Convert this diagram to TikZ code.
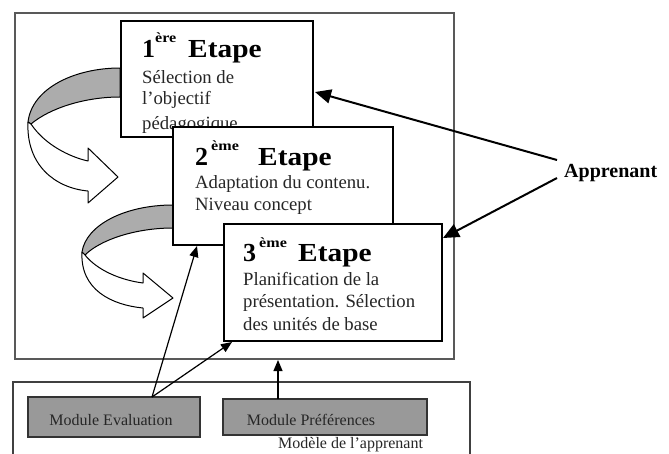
\documentclass[tikz,border=0pt]{standalone}
\usepackage{fontspec}
\setmainfont{Liberation Serif}
\usetikzlibrary{arrows.meta}
\tikzset{
  frm/.style={draw=black!65, line width=1.5pt},
  stepbox/.style={draw=black, line width=1.4pt, fill=white, inner sep=0pt},
  modbox/.style={draw=black!80, line width=1.1pt, fill=gray!80, inner sep=0pt},
  ttl/.style={anchor=base west, inner sep=0pt, font=\fontsize{26}{26}\selectfont\bfseries},
  supx/.style={anchor=base west, inner sep=0pt, font=\fontsize{14}{14}\selectfont\bfseries},
  bodytxt/.style={anchor=base west, inner sep=0pt, font=\fontsize{18.7}{22}\selectfont, text=black!85},
  modtxt/.style={inner sep=0pt, font=\fontsize{16}{16}\selectfont, text=black!85},
  bigarrow/.style={-{Triangle[length=16pt,width=14pt]}, line width=2pt},
  smallarrow/.style={-{Triangle[length=11pt,width=9pt]}, line width=1.2pt},
  bandgrey/.style={draw=black, line width=1pt, fill=gray!65, line join=round},
  bandwhite/.style={draw=black, line width=1pt, fill=white, line join=round}
}
\begin{document}
\begin{tikzpicture}[x=1pt,y=-1pt]
\useasboundingbox (0,0) rectangle (669,453);
\fill[white] (0,0) rectangle (669,453);

% outer frame
\node[frm, minimum width=439pt, minimum height=346pt, inner sep=0pt] (frame) at (234.5,186) {};

% curved arrow 1
\draw[bandgrey] (120,68) .. controls (75,68) and (32,88) .. (28,122)
  -- (31,124) .. controls (50,108) and (85,97) .. (120,97) -- cycle;
\draw[bandwhite] (31,124) .. controls (45,145) and (70,157) .. (88,161)
  -- (88,148) -- (118,177) -- (88,203) -- (88,191)
  .. controls (55,188) and (26,165) .. (28,122) -- cycle;

% curved arrow 2
\draw[bandgrey] (173,205) .. controls (125,205) and (86,225) .. (82,252)
  -- (85,255) .. controls (100,240) and (135,228) .. (173,228) -- cycle;
\draw[bandwhite] (85,255) .. controls (97,270) and (120,280) .. (143,283)
  -- (143,273) -- (173,298) -- (143,318) -- (143,308)
  .. controls (112,305) and (80,290) .. (82,252) -- cycle;

% step 1
\node[stepbox, minimum width=192pt, minimum height=116pt] (b1) at (217,79) {};
\node[ttl] (b1n) at (142,57) {1};
\node[supx] (b1s) at (155,42) {\scalebox{1.15}[1]{ère}};
\node[ttl] (b1t) at (188,57) {\scalebox{1.13}[1]{Etape}};
\node[bodytxt] (b1a) at (142,83) {Sélection de};
\node[bodytxt] (b1b) at (142,104) {l’objectif};
\node[bodytxt] (b1c) at (142,129) {pédagogique};

% step 2
\node[stepbox, minimum width=220pt, minimum height=118pt] (b2) at (283,186) {};
\node[ttl] (b2n) at (195,165) {2};
\node[supx] (b2s) at (211,150) {\scalebox{1.15}[1]{ème}};
\node[ttl] (b2t) at (258,165) {\scalebox{1.13}[1]{Etape}};
\node[bodytxt] (b2a) at (195,188) {Adaptation du contenu.};
\node[bodytxt] (b2b) at (195,210) {Niveau concept};

% step 3
\node[stepbox, minimum width=218pt, minimum height=117pt] (b3) at (333,282.5) {};
\node[ttl] (b3n) at (243,261) {3};
\node[supx] (b3s) at (259,247) {\scalebox{1.15}[1]{ème}};
\node[ttl] (b3t) at (298,261) {\scalebox{1.13}[1]{Etape}};
\node[bodytxt] (b3a) at (243,285) {Planification de la};
\node[bodytxt] (b3b) at (243,307) {présentation. Sélection};
\node[bodytxt] (b3c) at (243,330) {des unités de base};

% learner model frame
\draw[draw=black!75, line width=1.2pt] (13,465) -- (13,382) -- (470,382) -- (470,465);
\node[modbox, minimum width=172pt, minimum height=40pt] (me) at (114,417) {};
\node[modtxt] (metxt) at (111,420) {Module Evaluation};
\node[modbox, minimum width=204pt, minimum height=36pt] (mp) at (325,417) {};
\node[modtxt] (mptxt) at (311,420) {Module Préférences};
\node[anchor=base west, inner sep=0pt, font=\fontsize{16}{16}\selectfont, text=black!85] (mdl) at (278,448) {Modèle de l’apprenant};

% Apprenant
\node[anchor=base west, inner sep=0pt, font=\fontsize{20}{20}\selectfont\bfseries] (app) at (564,177) {Apprenant};
\coordinate (ap1) at (557,160);
\coordinate (ap2) at (557,178);
\coordinate (t1) at (315,92);
\coordinate (t3) at (443,238);
\draw[bigarrow] (ap1) -- (t1);
\draw[bigarrow] (ap2) -- (t3);

% module arrows
\coordinate (mes) at (152,397);
\coordinate (t2b) at (197,246);
\coordinate (t3b) at (232,342);
\draw[smallarrow] (mes) -- (t2b);
\draw[smallarrow] (mes) -- (t3b);
\coordinate (mps) at (278,399);
\coordinate (fb) at (278,360);
\draw[smallarrow] (mps) -- (fb);
\end{tikzpicture}
\end{document}
